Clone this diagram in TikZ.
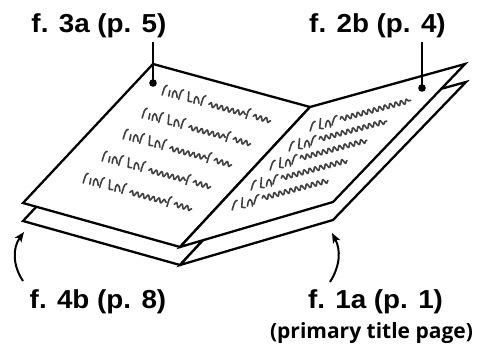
\documentclass[tikz,border=0pt]{standalone}
\usepackage{fontspec}
\setmainfont{Liberation Sans}
\newfontfamily\subfont{Open Sans}
\usetikzlibrary{decorations.pathmorphing,arrows.meta}
\tikzset{
  sheet/.style={draw=black, line width=2.3pt, fill=white, line join=miter},
  sq/.style={draw=black!75, line width=1.6pt, line cap=round, line join=round},
  wave/.style={sq, decorate, decoration={snake, segment length=5.6pt, amplitude=2.3pt}},
  lbl/.style={font=\fontsize{26}{30}\selectfont\bfseries, anchor=base, inner sep=0pt},
  sublbl/.style={font=\subfont\fontsize{21}{25}\selectfont\bfseries, anchor=base, inner sep=0pt},
  leader/.style={line width=1.7pt},
  pointer/.style={line width=2pt, -{Stealth[length=10pt,width=8pt,inset=2.5pt]}},
  hr/.pic={\draw[sq] (-0.8,5) .. controls (0.7,0) and (1.4,-4.5) .. (4.2,-4.6);},
  hi/.pic={\draw[sq] (0,4.5) -- (1.1,-1);},
  hn/.pic={\draw[sq] (0,5) .. controls (0.8,-3.5) and (4.2,-4.5) .. (5,5);},
  hl/.pic={\draw[sq] (0.8,-5) -- (0,4.5) -- (3.6,5);},
}
\newcommand\Lrow[2]{\begin{scope}[shift={(#1,#2)},rotate=-15]
  \pic at (0,0) {hr}; \pic at (6,0) {hi}; \pic at (9.5,0) {hn}; \pic at (17,0) {hr};
  \pic at (26,0) {hl}; \pic at (32,0) {hn}; \pic at (40,0) {hr};
  \draw[wave] (48,2) -- (86,2);
  \pic at (87,1) {hr};
  \draw[wave] (94,2) -- (112,2);
\end{scope}}
\newcommand\Rrow[3]{\begin{scope}[shift={(#1,#2)},rotate=15]
  \pic at (0,0) {hr};
  \pic at (9,0) {hl}; \pic at (15,0) {hn}; \pic at (22.5,0) {hr};
  \draw[wave] (30,1) -- (#3,1);
\end{scope}}
\begin{document}
\begin{tikzpicture}[x=1pt,y=-1pt]
\useasboundingbox (0,0) rectangle (479,348);
% lower sheet
\draw[sheet] (153,82) -- (310,125) -- (180,265) -- (23,221) -- cycle;
\draw[sheet] (310,125) -- (466,82) -- (333,220) -- (180,265) -- cycle;
% top sheet
\draw[sheet] (153,64) -- (310,107) -- (180,247) -- (23,203) -- cycle;
\draw[sheet] (310,107) -- (465,64) -- (333,202) -- (180,247) -- cycle;
% writing, left page
\Lrow{163}{90}
\Lrow{143}{113}
\Lrow{124}{134}
\Lrow{103}{156}
\Lrow{84}{178}
% writing, right page
\Rrow{311}{126}{103}
\Rrow{290}{146}{100}
\Rrow{271}{165}{99}
\Rrow{252}{185}{98}
\Rrow{233}{205}{98}
% labels
\node[lbl] (l3a) at (99,32) {\scalebox{1.07}[1]{f. 3a (p. 5)}};
\node[lbl] (l2b) at (377.5,32) {\scalebox{1.07}[1]{f. 2b (p. 4)}};
\node[lbl] (l4b) at (98,308) {\scalebox{1.07}[1]{f. 4b (p. 8)}};
\node[lbl] (l1a) at (375.5,308) {\scalebox{1.07}[1]{f. 1a (p. 1)}};
\node[sublbl] (lsub) at (371.5,338) {(primary title page)};
% leaders and dots
\coordinate (c3a) at (153,83);
\coordinate (c2b) at (422,88);
\coordinate (t3a) at (153,42);
\coordinate (t2b) at (422,42);
\draw[leader] (t3a) -- (c3a);
\draw[leader] (t2b) -- (c2b);
\fill (c3a) circle (3.8pt);
\fill (c2b) circle (3.8pt);
% pointers
\coordinate (a4s) at (23,281);
\coordinate (a4e) at (24,232);
\coordinate (a1s) at (330,282);
\coordinate (a1e) at (332,233);
\draw[pointer] (a4s) to[bend left=35] (a4e);
\draw[pointer] (a1s) to[bend right=30] (a1e);
\end{tikzpicture}
\end{document}
